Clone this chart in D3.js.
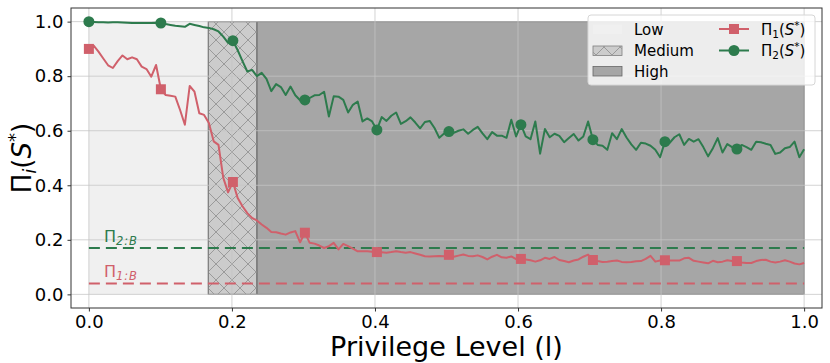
<!DOCTYPE html>
<html>
<head>
<meta charset="utf-8">
<script src="https://cdn.jsdelivr.net/npm/d3@7"></script>
<style>
  body { margin: 0; background: #fff; }
  text { font-family: "DejaVu Sans", sans-serif; }
</style>
</head>
<body>
<script>
var width = 830, height = 363;

// privilege level grid (150 samples between 0 and 1)
var levels = d3.range(150).map(function(i){ return i / 149; });

// Pi_1(S*)
var pi1 = [0.90,0.912,0.89,0.865,0.84,0.83,0.855,0.876,0.862,0.869,
  0.862,0.835,0.826,0.798,0.841,0.752,0.731,0.728,0.725,0.676,
  0.622,0.764,0.743,0.664,0.658,0.628,0.561,0.548,0.427,0.374,
  0.412,0.353,0.323,0.298,0.28,0.271,0.256,0.244,0.229,0.228,
  0.223,0.219,0.227,0.232,0.191,0.226,0.189,0.186,0.179,0.17,
  0.177,0.189,0.165,0.185,0.177,0.168,0.158,0.158,0.158,0.156,
  0.155,0.154,0.153,0.155,0.158,0.155,0.153,0.155,0.15,0.145,
  0.14,0.139,0.14,0.141,0.14,0.145,0.138,0.142,0.146,0.141,
  0.14,0.143,0.137,0.128,0.138,0.145,0.136,0.134,0.139,0.129,
  0.13,0.128,0.125,0.12,0.125,0.134,0.13,0.137,0.126,0.122,
  0.118,0.124,0.128,0.138,0.146,0.126,0.122,0.119,0.12,0.122,
  0.124,0.119,0.118,0.119,0.121,0.122,0.13,0.141,0.12,0.124,
  0.125,0.124,0.124,0.124,0.132,0.134,0.123,0.12,0.117,0.114,
  0.123,0.118,0.12,0.125,0.122,0.122,0.117,0.115,0.115,0.122,
  0.126,0.127,0.12,0.117,0.12,0.125,0.12,0.113,0.11,0.115];

// Pi_2(S*)
var pi2 = [1.0,0.999,0.998,0.998,0.997,0.998,0.998,0.997,0.996,0.995,
  0.995,0.995,0.995,0.995,0.996,0.995,0.991,0.988,0.985,0.983,
  0.981,0.992,0.988,0.984,0.979,0.977,0.972,0.964,0.945,0.922,
  0.93,0.895,0.855,0.817,0.823,0.80,0.812,0.79,0.745,0.771,
  0.76,0.731,0.762,0.73,0.712,0.713,0.72,0.73,0.731,0.743,
  0.652,0.726,0.725,0.713,0.667,0.695,0.707,0.634,0.645,0.634,
  0.603,0.65,0.636,0.655,0.667,0.625,0.635,0.649,0.63,0.609,
  0.632,0.636,0.61,0.574,0.59,0.597,0.592,0.60,0.605,0.589,
  0.603,0.614,0.59,0.569,0.595,0.582,0.582,0.574,0.64,0.579,
  0.622,0.579,0.569,0.634,0.516,0.606,0.576,0.589,0.581,0.558,
  0.573,0.588,0.564,0.579,0.634,0.567,0.548,0.545,0.53,0.591,
  0.569,0.606,0.575,0.55,0.53,0.556,0.553,0.545,0.53,0.503,
  0.56,0.556,0.576,0.587,0.548,0.57,0.56,0.569,0.54,0.506,
  0.536,0.573,0.52,0.551,0.54,0.533,0.548,0.54,0.53,0.56,
  0.558,0.552,0.548,0.515,0.52,0.536,0.54,0.56,0.503,0.532];

// baselines
var baseNames = ["2:B", "1:B"];
var baseValues = [0.17, 0.04];

// privilege regions
var regionNames = ["Low", "Medium", "High"];
var regionStart = [0, 0.167, 0.235];
var regionEnd = [0.167, 0.235, 1.0];

var xTicks = [0, 0.2, 0.4, 0.6, 0.8, 1.0];
var yTicks = [0, 0.2, 0.4, 0.6, 0.8, 1.0];

var red = "#d0606b", green = "#2d7b4d";
var regionFill = ["#f0f0f0", "#cccccc", "#a6a6a6"];
var regionEdge = ["none", "#7f7f7f", "#666666"];

var mLeft = 71, mRight = 822, mTop = 8, mBottom = 308;

var x = d3.scaleLinear().domain([-0.025, 1.025]).range([mLeft, mRight]);
var y = d3.scaleLinear().domain([-0.05, 1.05]).range([mBottom, mTop]);

var svg = d3.select("body").append("svg")
    .attr("width", width).attr("height", height);

var defs = svg.append("defs");
var pat = defs.append("pattern").attr("id", "hatch")
    .attr("patternUnits", "userSpaceOnUse").attr("width", 16).attr("height", 16);
pat.append("path").attr("d", "M0,0L16,16M16,0L0,16M-1,1L1,-1M15,17L17,15")
    .attr("stroke", "#9a9a9a").attr("stroke-width", 1).attr("fill", "none");

var clip = defs.append("clipPath").attr("id", "plotclip");
clip.append("rect").attr("x", mLeft).attr("y", mTop).attr("width", mRight - mLeft).attr("height", mBottom - mTop);

var plot = svg.append("g").attr("clip-path", "url(#plotclip)");

// regions
var regions = regionNames.map(function(n, i){ return {name: n, x0: regionStart[i], x1: regionEnd[i], i: i}; });
plot.selectAll("rect.region").data(regions).enter().append("rect").classed("region", true)
    .attr("x", function(d){ return x(d.x0); })
    .attr("y", y(1))
    .attr("width", function(d){ return x(d.x1) - x(d.x0); })
    .attr("height", y(0) - y(1))
    .attr("fill", function(d){ return regionFill[d.i]; })
    .attr("stroke", function(d){ return regionEdge[d.i]; })
    .attr("stroke-width", 1);
plot.append("rect")
    .attr("x", x(regionStart[1])).attr("y", y(1))
    .attr("width", x(regionEnd[1]) - x(regionStart[1])).attr("height", y(0) - y(1))
    .attr("fill", "url(#hatch)").attr("stroke", regionEdge[1]);

// grid
var grid = plot.append("g").attr("stroke", "#c4c4c4").attr("stroke-opacity", 0.75).attr("stroke-width", 1);
xTicks.forEach(function(t){
  grid.append("line").attr("x1", x(t)).attr("x2", x(t)).attr("y1", mTop).attr("y2", mBottom);
});
yTicks.forEach(function(t){
  grid.append("line").attr("y1", y(t)).attr("y2", y(t)).attr("x1", mLeft).attr("x2", mRight);
});

// baselines
var baseColors = [green, red];
baseValues.forEach(function(v, i){
  plot.append("line").attr("x1", x(0)).attr("x2", x(1)).attr("y1", y(v)).attr("y2", y(v))
      .attr("stroke", baseColors[i]).attr("stroke-width", 2).attr("stroke-dasharray", "11,6");
  var t = plot.append("text").attr("x", x(0.021)).attr("y", y(v) - 6)
      .attr("fill", baseColors[i]).attr("font-size", 16);
  t.append("tspan").text("Π");
  t.append("tspan").attr("dy", 3).attr("font-size", 11.5).attr("font-style", "italic")
      .attr("letter-spacing", 1).text(baseNames[i]);
});

// series
var line = d3.line().x(function(d){ return x(d[0]); }).y(function(d){ return y(d[1]); });
var s1 = levels.map(function(l, i){ return [l, pi1[i]]; });
var s2 = levels.map(function(l, i){ return [l, pi2[i]]; });

plot.append("path").datum(s1).attr("d", line).attr("fill", "none")
    .attr("stroke", red).attr("stroke-width", 2).attr("stroke-linejoin", "round");
plot.append("path").datum(s2).attr("d", line).attr("fill", "none")
    .attr("stroke", green).attr("stroke-width", 2).attr("stroke-linejoin", "round");

plot.selectAll("rect.m1").data(s1.filter(function(d, i){ return i % 15 === 0; }))
  .enter().append("rect").classed("m1", true)
    .attr("x", function(d){ return x(d[0]) - 5; })
    .attr("y", function(d){ return y(d[1]) - 5; })
    .attr("width", 10).attr("height", 10).attr("fill", red);
plot.selectAll("circle.m2").data(s2.filter(function(d, i){ return i % 15 === 0; }))
  .enter().append("circle").classed("m2", true)
    .attr("cx", function(d){ return x(d[0]); })
    .attr("cy", function(d){ return y(d[1]); })
    .attr("r", 5.5).attr("fill", green);

// axes
var xAxis = svg.append("g").attr("transform", "translate(0," + mBottom + ")")
    .call(d3.axisBottom(x).tickValues(xTicks).tickFormat(d3.format(".1f")).tickSize(3.5).tickPadding(4));
var yAxis = svg.append("g").attr("transform", "translate(" + mLeft + ",0)")
    .call(d3.axisLeft(y).tickValues(yTicks).tickFormat(d3.format(".1f")).tickSize(3.5).tickPadding(4));
[xAxis, yAxis].forEach(function(a){
  a.select(".domain").remove();
  a.selectAll("text").attr("font-size", 18).attr("fill", "#000").attr("font-family", "DejaVu Sans");
  a.selectAll("line").attr("stroke", "#333");
});
svg.append("rect").attr("x", mLeft).attr("y", mTop).attr("width", mRight - mLeft).attr("height", mBottom - mTop)
    .attr("fill", "none").attr("stroke", "#333").attr("stroke-width", 1);

// axis labels
svg.append("text").attr("x", (mLeft + mRight) / 2).attr("y", 356)
    .attr("text-anchor", "middle").attr("font-size", 27).text("Privilege Level (l)");
var yl = svg.append("text").attr("transform", "translate(31," + ((mTop + mBottom) / 2) + ") rotate(-90)")
    .attr("text-anchor", "middle").attr("font-size", 26);
yl.append("tspan").text("Π");
yl.append("tspan").attr("dy", 5).attr("font-size", 18).attr("font-style", "italic").text("i");
yl.append("tspan").attr("dy", -5).text("(");
yl.append("tspan").attr("font-style", "italic").text("S");
yl.append("tspan").attr("dy", -10).attr("font-size", 18).text("*");
yl.append("tspan").attr("dy", 10).text(")");

// legend
var lg = svg.append("g").attr("transform", "translate(588,15)");
lg.append("rect").attr("width", 227).attr("height", 70).attr("rx", 3)
    .attr("fill", "#ffffff").attr("fill-opacity", 0.8).attr("stroke", "#d6d6d6");
var rowY = [14, 35.5, 56];
regionNames.forEach(function(n, i){
  lg.append("rect").attr("x", 5).attr("y", rowY[i] - 4.5).attr("width", 29).attr("height", 9.5)
      .attr("fill", regionFill[i]).attr("stroke", i === 0 ? "none" : regionEdge[i]).attr("stroke-width", 0.8);
  if (i === 1) {
    lg.append("rect").attr("x", 5).attr("y", rowY[i] - 4.5).attr("width", 29).attr("height", 9.5)
        .attr("fill", "url(#hatch)");
  }
  lg.append("text").attr("x", 46).attr("y", rowY[i] + 5.5).attr("font-size", 15).text(n);
});
var seriesColors = [red, green], seriesSub = ["1", "2"];
seriesColors.forEach(function(c, i){
  var g = lg.append("g").attr("transform", "translate(0," + rowY[i] + ")");
  g.append("line").attr("x1", 131).attr("x2", 161).attr("stroke", c).attr("stroke-width", 2);
  if (i === 0) g.append("rect").attr("x", 141).attr("y", -5).attr("width", 10).attr("height", 10).attr("fill", c);
  else g.append("circle").attr("cx", 146).attr("r", 5.5).attr("fill", c);
  var t = g.append("text").attr("x", 173).attr("y", 5.5).attr("font-size", 15);
  t.append("tspan").text("Π");
  t.append("tspan").attr("dy", 3).attr("font-size", 10.5).text(seriesSub[i]);
  t.append("tspan").attr("dy", -3).text("(");
  t.append("tspan").attr("font-style", "italic").text("S");
  t.append("tspan").attr("dy", -6).attr("font-size", 10.5).text("*");
  t.append("tspan").attr("dy", 6).text(")");
});
</script>
</body>
</html>
